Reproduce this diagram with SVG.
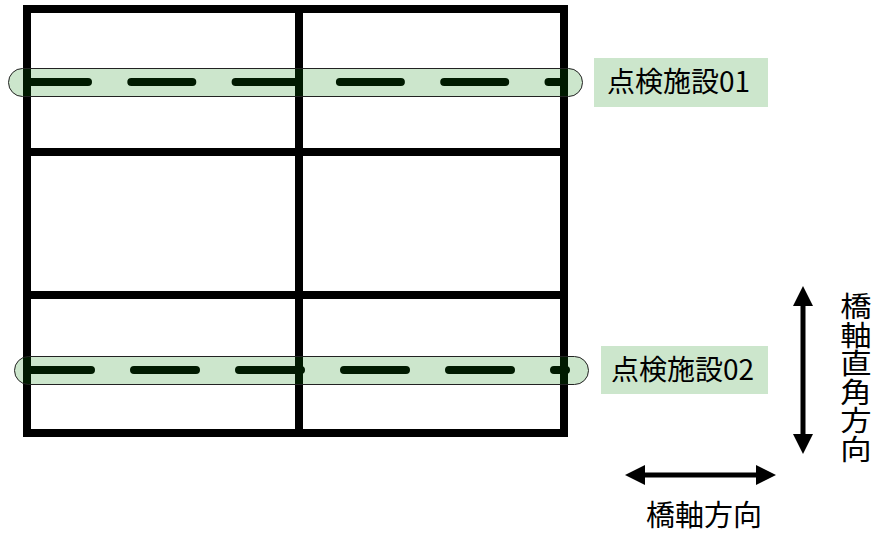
<svg xmlns="http://www.w3.org/2000/svg" width="880" height="535" viewBox="0 0 880 535">
<defs>
<style>
.frame{fill:none;stroke:#000;stroke-width:8;stroke-linejoin:miter}
.dash{stroke:#000;stroke-width:8;stroke-linecap:round}
.band{fill:#008000;fill-opacity:0.2;stroke:#222;stroke-width:1}
.lbl{fill:#cce6cc}
.t{font-family:"Noto Sans CJK JP","Noto Sans CJK SC",sans-serif;fill:#000}
.arr{stroke:#000;stroke-width:5}
</style>
<marker id="ah" viewBox="0 0 20 20" refX="0" refY="10" markerWidth="20" markerHeight="20" markerUnits="userSpaceOnUse" orient="auto-start-reverse">
<path d="M0,0 L20,10 L0,20 Z" fill="#000"/>
</marker>
</defs>
<rect width="880" height="535" fill="#fff"/>
<g id="frame">
<rect class="frame" x="27" y="9" width="537" height="424"/>
<line class="frame" x1="299" y1="9" x2="299" y2="433"/>
<line class="frame" x1="27" y1="152" x2="564" y2="152"/>
<line class="frame" x1="27" y1="295" x2="564" y2="295"/>
</g>
<g id="facility01">
<line class="dash" x1="27" y1="82" x2="564" y2="82" stroke-dasharray="61 43.3"/>
<rect class="band" x="8.5" y="68.5" width="574" height="28" rx="14" ry="14"/>
<rect class="lbl" x="594" y="58" width="174" height="49"/>
<text class="t" x="607" y="92" font-size="28">点検施設01</text>
</g>
<g id="facility02">
<line class="dash" x1="29" y1="370" x2="566" y2="370" stroke-dasharray="62 43"/>
<rect class="band" x="14.5" y="356.5" width="574" height="28" rx="14" ry="14"/>
<rect class="lbl" x="601" y="346" width="167" height="48"/>
<text class="t" x="611" y="380" font-size="28">点検施設02</text>
</g>
<g id="connectors">
<line class="arr" x1="803" y1="306" x2="803" y2="434" marker-start="url(#ah)" marker-end="url(#ah)"/>
<line class="arr" x1="645" y1="475" x2="756" y2="475" marker-start="url(#ah)" marker-end="url(#ah)"/>
</g>
<g id="axis-labels">
<text class="t" x="704" y="526" font-size="29" text-anchor="middle">橋軸方向</text>
<g transform="scale(1.1,1)">
<text class="t" x="778.2" y="292" font-size="28.5" writing-mode="vertical-rl">橋軸直角方向</text>
</g>
</g>
</svg>
